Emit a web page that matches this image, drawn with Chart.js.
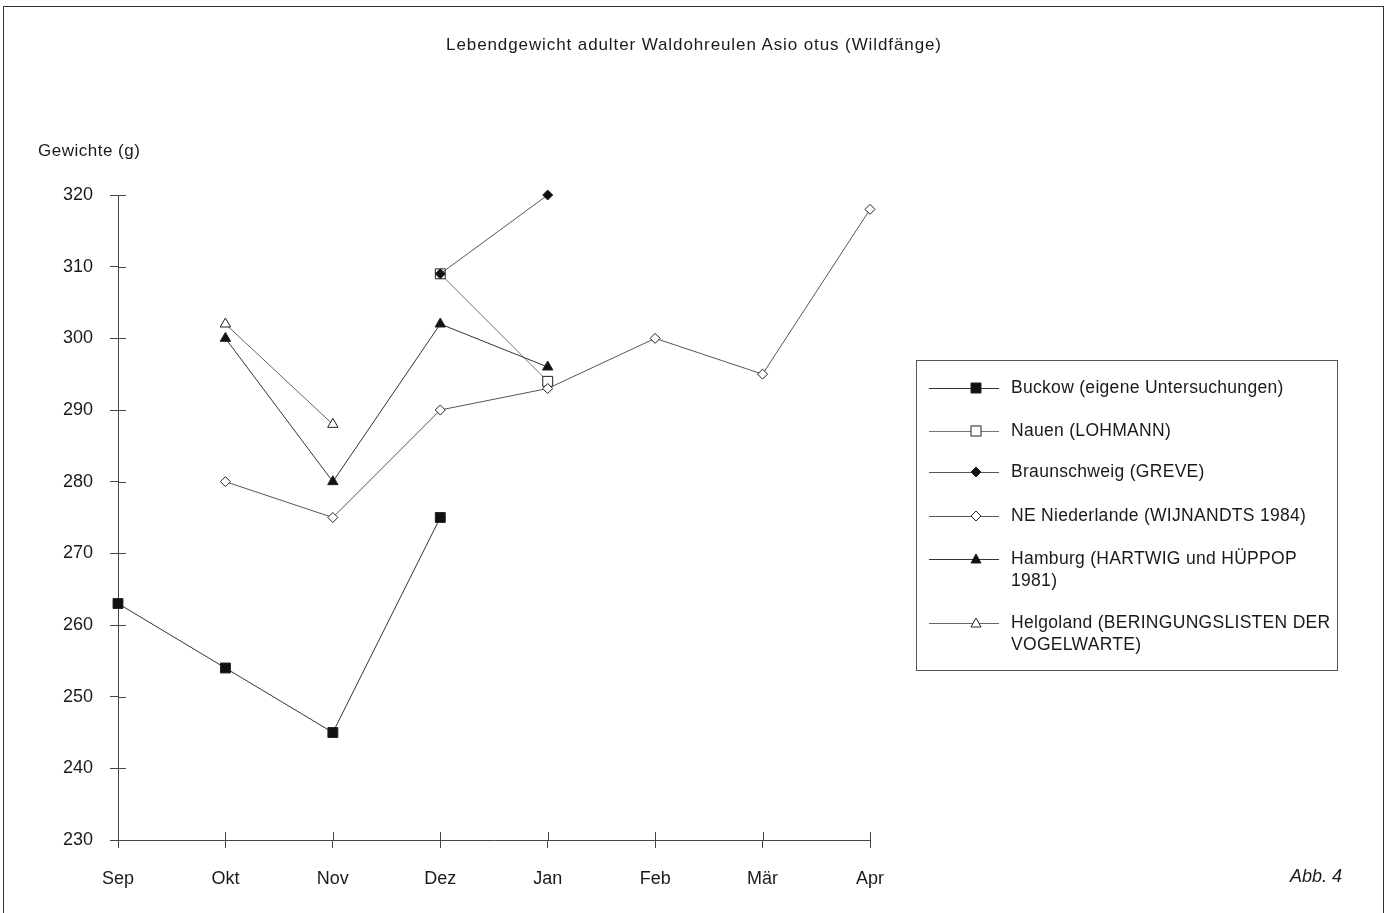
<!DOCTYPE html>
<html>
<head>
<meta charset="utf-8">
<script src="https://cdn.jsdelivr.net/npm/chart.js@4"></script>
<style>
  html, body { margin:0; padding:0; background:#fff; }
  body { width:1388px; height:913px; position:relative; overflow:hidden;
         font-family:"Liberation Sans", Arial, sans-serif; color:#1a1a1a; }
  #frame { position:absolute; left:3px; top:6px; width:1381px; height:920px;
           border:1.5px solid #333; box-sizing:border-box; }
  #chartWrap { position:absolute; left:0; top:0; width:1388px; height:913px; }
  .txt { position:absolute; white-space:nowrap; }
  #title { left:0; width:1388px; top:35px; text-align:center; font-size:17px; letter-spacing:0.9px; }
  #ylab { left:38px; top:141px; font-size:17px; letter-spacing:0.5px; }
  #abb { left:1290px; top:866px; font-size:18px; font-style:italic; }
  #legend { position:absolute; left:916px; top:360px; width:422px; height:311px;
            border:1px solid #555; box-sizing:border-box; }
  .item { position:absolute; left:12px; display:flex; align-items:flex-start; }
  .item svg { flex:none; margin-top:2px; }
  .item span { margin-left:12px; font-size:17.5px; letter-spacing:0.3px; line-height:22px;
               white-space:normal; width:322px; }
</style>
</head>
<body>
<div id="frame"></div>
<div id="chartWrap"><canvas id="weightChart" width="1388" height="913"></canvas></div>
<div class="txt" id="title">Lebendgewicht adulter Waldohreulen Asio otus (Wildfänge)</div>
<div class="txt" id="ylab">Gewichte (g)</div>
<div class="txt" id="abb">Abb. 4</div>
<div id="legend"></div>

<script>
const months = ["Sep", "Okt", "Nov", "Dez", "Jan", "Feb", "Mär", "Apr"];

const buckow      = [263, 254, 245, 275, null, null, null, null];
const nauen       = [null, null, null, 309, 294, null, null, null];
const braunschweig= [null, null, null, 309, 320, null, null, null];
const niederlande = [null, 280, 275, 290, 293, 300, 295, 318];
const hamburg     = [null, 300, 280, 302, 296, null, null, null];
const helgoland   = [null, 302, 288, null, null, null, null, null];

const seriesNames = [
  "Buckow (eigene Untersuchungen)",
  "Nauen (LOHMANN)",
  "Braunschweig (GREVE)",
  "NE Niederlande (WIJNANDTS 1984)",
  "Hamburg (HARTWIG und HÜPPOP 1981)",
  "Helgoland (BERINGUNGSLISTEN DER VOGELWARTE)"
];

const yMin = 230, yMax = 320, yStep = 10;

/* ---------- series styles ---------- */
const styles = [
  { data: buckow,       pointStyle: "rect",     radius: 7, fill: "#111", line: "#333", order: 1 },
  { data: nauen,        pointStyle: "rect",     radius: 7, fill: "#fff", line: "#777", order: 5 },
  { data: braunschweig, pointStyle: "rectRot",  radius: 5, fill: "#111", line: "#555", order: 0 },
  { data: niederlande,  pointStyle: "rectRot",  radius: 5, fill: "#fff", line: "#555", order: 4 },
  { data: hamburg,      pointStyle: "triangle", radius: 6, fill: "#111", line: "#333", order: 2 },
  { data: helgoland,    pointStyle: "triangle", radius: 6, fill: "#fff", line: "#666", order: 3 }
];

const datasets = styles.map((s, i) => ({
  label: seriesNames[i],
  data: s.data,
  order: s.order,
  clip: false,
  borderColor: s.line,
  borderWidth: 1,
  pointStyle: s.pointStyle,
  pointRadius: s.radius,
  pointBackgroundColor: s.fill,
  pointBorderColor: "#222",
  pointBorderWidth: 1,
  tension: 0,
  spanGaps: false
}));

/* ticks that cross the axis lines on the inside too */
const innerTicks = {
  id: "innerTicks",
  afterDraw(chart) {
    const { ctx, chartArea, scales } = chart;
    ctx.save();
    ctx.strokeStyle = "#444";
    ctx.lineWidth = 1;
    ctx.beginPath();
    scales.y.ticks.forEach((t, i) => {
      const y = Math.round(scales.y.getPixelForTick(i)) + 0.5;
      ctx.moveTo(chartArea.left, y);
      ctx.lineTo(chartArea.left + 8, y);
    });
    scales.x.ticks.forEach((t, i) => {
      if (i === 0) return;
      const x = Math.round(scales.x.getPixelForTick(i)) + 0.5;
      ctx.moveTo(x, chartArea.bottom);
      ctx.lineTo(x, chartArea.bottom - 8);
    });
    ctx.stroke();
    ctx.restore();
  }
};

const tickFont = { family: "'Liberation Sans', Arial, sans-serif", size: 18 };

new Chart(document.getElementById("weightChart").getContext("2d"), {
  type: "line",
  data: { labels: months, datasets },
  options: {
    responsive: false,
    animation: false,
    layout: { padding: { top: 195, left: 0, right: 518, bottom: 23 } },
    plugins: { legend: { display: false }, tooltip: { enabled: false } },
    scales: {
      x: {
        offset: false,
        grid: { drawOnChartArea: false, tickLength: 8, color: "#444" },
        border: { color: "#444", width: 1 },
        ticks: { color: "#1a1a1a", font: tickFont, padding: 20, maxRotation: 0 },
        afterFit: s => { s.height = 50; }
      },
      y: {
        min: yMin,
        max: yMax,
        grid: { drawOnChartArea: false, tickLength: 8, color: "#444" },
        border: { color: "#444", width: 1 },
        ticks: { stepSize: yStep, color: "#1a1a1a", font: tickFont, padding: 17 },
        afterFit: s => { s.width = 118; }
      }
    }
  },
  plugins: [innerTicks]
});

/* ---------- legend ---------- */
function markerSvg(s) {
  const cx = 47, cy = 10;
  let shape;
  if (s.pointStyle === "rect") {
    shape = `<rect x="${cx-5}" y="${cy-5}" width="10" height="10" fill="${s.fill}" stroke="#222" stroke-width="1"/>`;
  } else if (s.pointStyle === "rectRot") {
    shape = `<polygon points="${cx},${cy-5} ${cx+5},${cy} ${cx},${cy+5} ${cx-5},${cy}" fill="${s.fill}" stroke="#222" stroke-width="1"/>`;
  } else {
    shape = `<polygon points="${cx},${cy-5} ${cx+5},${cy+4} ${cx-5},${cy+4}" fill="${s.fill}" stroke="#222" stroke-width="1"/>`;
  }
  return `<svg width="70" height="20"><line x1="0" y1="${cy+0.5}" x2="70" y2="${cy+0.5}" stroke="${s.line}" stroke-width="1"/>${shape}</svg>`;
}

const legendTops = [15, 58, 99, 143, 186, 250];
const legend = document.getElementById("legend");
styles.forEach((s, i) => {
  const div = document.createElement("div");
  div.className = "item";
  div.style.top = legendTops[i] + "px";
  div.innerHTML = markerSvg(s) + `<span>${seriesNames[i]}</span>`;
  legend.appendChild(div);
});
</script>
</body>
</html>
